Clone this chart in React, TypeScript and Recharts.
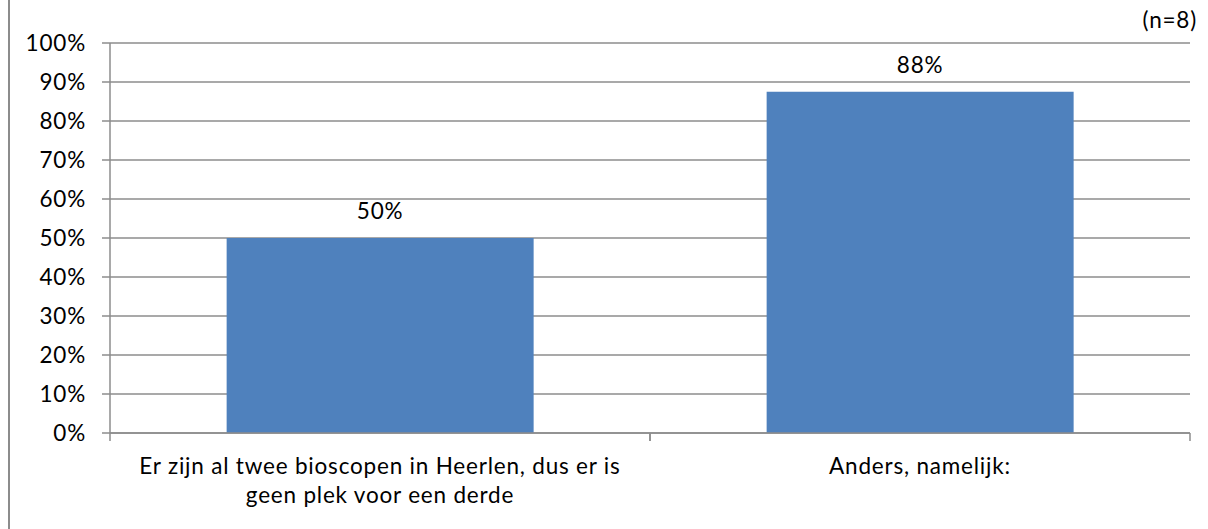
import React from "react";
import { BarChart, Bar, XAxis, YAxis, CartesianGrid, LabelList } from "recharts";

const categories = [
  "Er zijn al twee bioscopen in Heerlen, dus er is geen plek voor een derde",
  "Anders, namelijk:",
];
const values = [50, 87.5];
const yTicks = [0, 10, 20, 30, 40, 50, 60, 70, 80, 90, 100];
const sampleNote = "(n=8)";

const data = categories.map((c, i) => ({ name: c, value: values[i] }));

const FONT = "Lato, 'Open Sans', sans-serif";
const FS = 22.5;
const LS = 0.8;
const GRAY = "#8c8c8c";
const CHART_W = 1208;
const M_LEFT = 0;
const Y_W = 110;
const M_RIGHT = 18;
const X_TICK_MARGIN = 25;
const BAND = (CHART_W - M_LEFT - Y_W - M_RIGHT) / categories.length;

let ctx: CanvasRenderingContext2D | null = null;
function measure(s: string): number {
  if (!ctx) {
    const c = document.createElement("canvas");
    ctx = c.getContext("2d");
  }
  if (!ctx) return s.length * FS * 0.5;
  ctx.font = `${FS}px ${FONT}`;
  return ctx.measureText(s).width + s.length * LS;
}

function wrap(text: string, maxW: number): string[] {
  const words = text.split(" ");
  const lines: string[] = [];
  let cur = "";
  for (const w of words) {
    const next = cur ? cur + " " + w : w;
    if (cur && measure(next) > maxW) {
      lines.push(cur);
      cur = w;
    } else cur = next;
  }
  if (cur) lines.push(cur);
  return lines;
}

const XTick = (props: any) => {
  const { x, y, payload } = props;
  const lines = wrap(String(payload.value), 510);
  const axisY = y - X_TICK_MARGIN;
  return (
    <g>
      <line x1={x - BAND / 2} x2={x - BAND / 2} y1={axisY} y2={axisY + 8} stroke={GRAY} strokeWidth={1.5} />
      <line x1={x + BAND / 2} x2={x + BAND / 2} y1={axisY} y2={axisY + 8} stroke={GRAY} strokeWidth={1.5} />
      <text
        x={x}
        y={y}
        textAnchor="middle"
        fill="#000"
        style={{ fontFamily: FONT, fontSize: FS, letterSpacing: LS }}
      >
        {lines.map((l, i) => (
          <tspan key={i} x={x} dy={i === 0 ? "0.71em" : 29}>
            {l}
          </tspan>
        ))}
      </text>
    </g>
  );
};

export default function App() {
  return (
    <div style={{ position: "absolute", left: 0, top: 0, width: 1208, height: 529, background: "#fff" }}>
      <div style={{ position: "absolute", left: 8, top: 0, width: 2, height: 529, background: GRAY }} />
      <div
        style={{
          position: "absolute",
          right: 11,
          top: 8,
          fontFamily: FONT,
          fontSize: FS,
          letterSpacing: LS,
          color: "#000",
          lineHeight: "24px",
        }}
      >
        {sampleNote}
      </div>
      <BarChart
        width={CHART_W}
        height={529}
        data={data}
        margin={{ top: 43, right: M_RIGHT, bottom: 0, left: M_LEFT }}
        barCategoryGap="21.6%"
      >
        <CartesianGrid vertical={false} stroke={GRAY} strokeWidth={1.5} />
        <YAxis
          type="number"
          domain={[0, 100]}
          ticks={yTicks}
          interval={0}
          width={Y_W}
          tickSize={8}
          tickMargin={16}
          tickFormatter={(v: number) => `${v}%`}
          axisLine={{ stroke: GRAY, strokeWidth: 1.5 }}
          tickLine={{ stroke: GRAY, strokeWidth: 1.5 }}
          tick={{ fill: "#000", fontSize: FS, fontFamily: FONT, letterSpacing: LS }}
        />
        <XAxis
          dataKey="name"
          interval={0}
          height={96}
          tickSize={0}
          tickMargin={X_TICK_MARGIN}
          axisLine={{ stroke: GRAY, strokeWidth: 1.5 }}
          tickLine={false}
          tick={<XTick />}
        />
        <Bar dataKey="value" fill="#4F81BD" isAnimationActive={false}>
          <LabelList
            dataKey="value"
            position="top"
            offset={19}
            formatter={(v: number) => `${Math.round(v)}%`}
            style={{ fill: "#000", fontSize: FS, fontFamily: FONT, letterSpacing: LS }}
          />
        </Bar>
      </BarChart>
    </div>
  );
}
